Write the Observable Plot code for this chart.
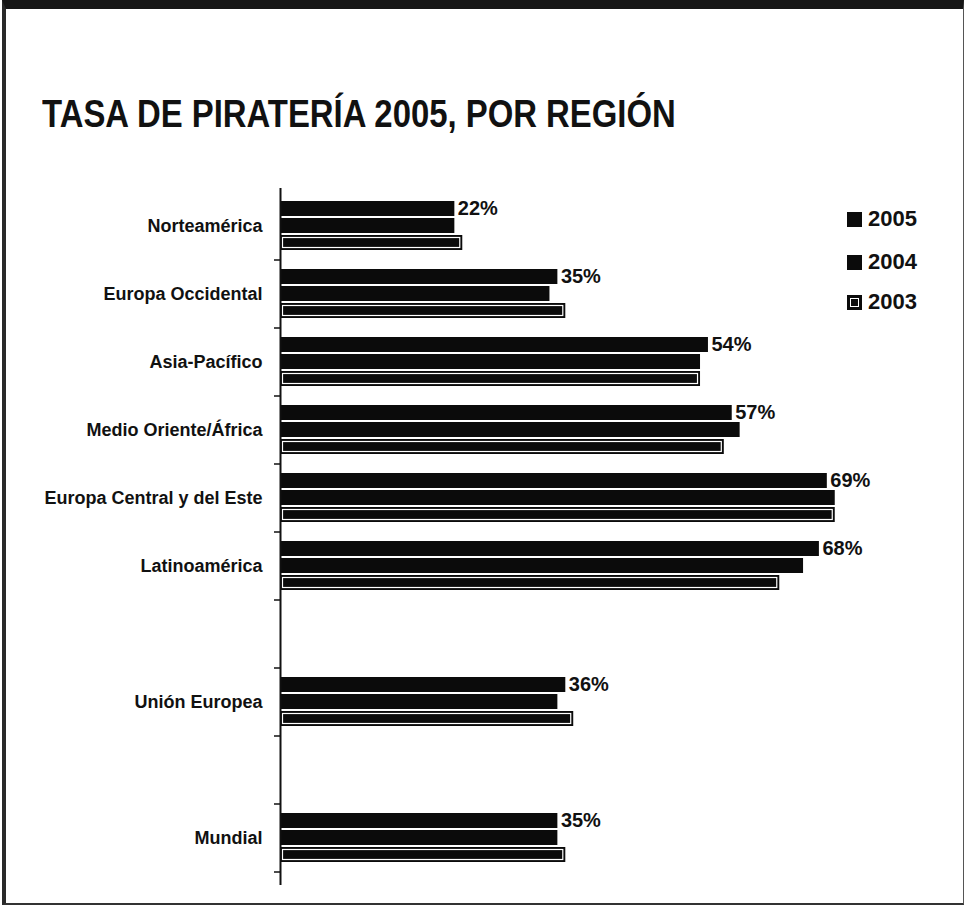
<!DOCTYPE html>
<html>
<head>
<meta charset="utf-8">
<script src="https://cdn.jsdelivr.net/npm/d3@7"></script>
<script src="https://cdn.jsdelivr.net/npm/@observablehq/plot@0.6"></script>
<style>
  html, body { margin: 0; padding: 0; background: #fff; }
  #page { position: relative; width: 968px; height: 914px; overflow: hidden; background: #fff;
          font-family: "Liberation Sans", Arial, sans-serif; color: #111; }
  #frame { position: absolute; left: 2px; top: 0; width: 962px; height: 905px; box-sizing: border-box;
           border-top: 9px solid #161616; border-left: 4px solid #2a2a2a; border-right: 1px solid #555; border-bottom: 2px solid #333; }
  #title { position: absolute; left: 42px; top: 95px; font-size: 38px; line-height: 38px; font-weight: bold;
           white-space: nowrap; transform: scaleX(0.865); transform-origin: left top; letter-spacing: 0; }
  #chart { position: absolute; left: 0; top: 180px; }
  .leg { position: absolute; left: 847px; font-size: 22px; line-height: 22px; font-weight: bold; white-space: nowrap; }
  .sw { display: inline-block; width: 15px; height: 15px; background: #0b0b0b; margin-right: 6px; vertical-align: -1px; box-sizing: border-box; }
  .sw.p { border: 2px solid #0b0b0b; outline: 1px solid #fff; outline-offset: -4px; }
</style>
</head>
<body>
<div id="page">
  <div id="frame"></div>
  <div id="title">TASA DE PIRATERÍA 2005, POR REGIÓN</div>
  <div id="chart"></div>
  <div id="legend"></div>
</div>
<script>
// Data (%)
const regions = ["Norteamérica", "Europa Occidental", "Asia-Pacífico", "Medio Oriente/África",
                 "Europa Central y del Este", "Latinoamérica", "Unión Europea", "Mundial"];
const years = ["2005", "2004", "2003"];
const v2005 = [22, 35, 54, 57, 69, 68, 36, 35];
const v2004 = [22, 34, 53, 58, 70, 66, 35, 35];
const v2003 = [23, 36, 53, 56, 70, 63, 37, 36];

const series = [v2005, v2004, v2003];
const rows = regions.flatMap((r, i) => years.map((y, j) => ({region: r, year: y, value: series[j][i]})));
const key = d => d.region + "|" + d.year;

// Slots: the six regions, an empty slot, Unión Europea, an empty slot, Mundial
const slots = [...regions.slice(0, 6), "_gapA", regions[6], "_gapB", regions[7]];
const yDomain = slots.flatMap(s => [...years.map(y => s + "|" + y), s + "|pad"]);

const font = "Liberation Sans, Arial, sans-serif";

const chart = Plot.plot({
  width: 968,
  height: 701,
  marginLeft: 280,
  marginRight: 54,
  marginTop: 20,
  marginBottom: 0,
  style: {fontFamily: font, background: "transparent", overflow: "visible", color: "#111"},
  x: {domain: [0, 80], axis: null},
  y: {domain: yDomain, axis: null, paddingInner: 0.1, paddingOuter: 0},
  marks: [
    Plot.barX(rows, {x: "value", y: key, fill: "#0b0b0b"}),
    Plot.barX(rows.filter(d => d.year === "2003"), {x: "value", y: key, fill: "none", stroke: "#fff", strokeWidth: 1.2, inset: 2.5}),
    Plot.ruleX([0], {stroke: "#111", strokeWidth: 2, insetTop: -12, insetBottom: -4}),
    Plot.ruleY(slots, {y: s => s + "|pad", x1: 0, x2: 0, insetLeft: -6, stroke: "#111", strokeWidth: 1.5}),
    Plot.text(regions, {y: r => r + "|2004", frameAnchor: "left", dx: -18, textAnchor: "end", text: d => d,
                        fontSize: 18, fontWeight: "bold", fill: "#111"}),
    Plot.text(rows.filter(d => d.year === "2005"), {x: "value", y: key, text: d => d.value + "%", dx: 3,
                        textAnchor: "start", fontSize: 20, fontWeight: "bold", fill: "#111"})
  ]
});
document.getElementById("chart").appendChild(chart);

// Legend
const legTops = [208, 251, 291];
const legend = document.getElementById("legend");
years.forEach((y, j) => {
  const div = document.createElement("div");
  div.className = "leg";
  div.style.top = legTops[j] + "px";
  const sw = document.createElement("span");
  sw.className = "sw" + (y === "2003" ? " p" : "");
  div.appendChild(sw);
  div.appendChild(document.createTextNode(y));
  legend.appendChild(div);
});
</script>
</body>
</html>
